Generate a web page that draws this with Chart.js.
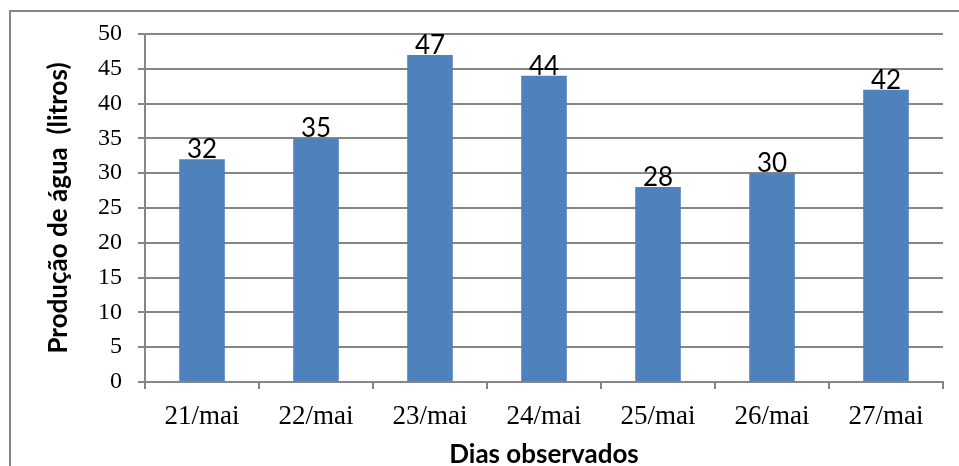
<!DOCTYPE html>
<html>
<head>
<meta charset="utf-8">
<script src="https://cdn.jsdelivr.net/npm/chart.js@4"></script>
<style>
  html, body { margin: 0; padding: 0; background: #ffffff; }
  #wrap { position: relative; width: 959px; height: 466px; }
</style>
</head>
<body>
<div id="wrap"><canvas id="c" width="959" height="466"></canvas></div>
<script>
const categories = ["21/mai", "22/mai", "23/mai", "24/mai", "25/mai", "26/mai", "27/mai"];
const producao = [32, 35, 47, 44, 28, 30, 42];
const yTicks = [0, 5, 10, 15, 20, 25, 30, 35, 40, 45, 50];
const xTitle = "Dias observados";
const yTitle = "Produção de água  (litros)";

const gridColor = "#868686";

const frame = {
  id: "frame",
  beforeDraw(chart) {
    const ctx = chart.ctx;
    ctx.save();
    ctx.fillStyle = "#ffffff";
    ctx.fillRect(0, 0, chart.width, chart.height);
    ctx.strokeStyle = gridColor;
    ctx.lineWidth = 2;
    ctx.strokeRect(10, 11, chart.width + 20, chart.height + 20);
    ctx.restore();
  }
};

const valueLabels = {
  id: "valueLabels",
  afterDatasetsDraw(chart) {
    const ctx = chart.ctx;
    const meta = chart.getDatasetMeta(0);
    ctx.save();
    ctx.font = "26px Lato";
    ctx.fillStyle = "#000000";
    ctx.textAlign = "center";
    ctx.textBaseline = "alphabetic";
    meta.data.forEach((bar, i) => {
      ctx.fillText(String(chart.data.datasets[0].data[i]), bar.x, bar.y - 1);
    });
    ctx.restore();
  }
};

new Chart(document.getElementById("c"), {
  type: "bar",
  data: {
    labels: categories,
    datasets: [{
      data: producao,
      backgroundColor: "#4F81BD",
      borderWidth: 0,
      categoryPercentage: 1,
      barPercentage: 0.4
    }]
  },
  options: {
    responsive: false,
    animation: false,
    devicePixelRatio: 1,
    layout: { padding: { top: 34, right: 16, bottom: 0, left: 0 } },
    plugins: {
      legend: { display: false },
      tooltip: { enabled: false }
    },
    scales: {
      x: {
        offset: true,
        grid: {
          display: true,
          offset: true,
          drawOnChartArea: false,
          drawTicks: true,
          tickLength: 7,
          color: gridColor,
          lineWidth: 2
        },
        border: { display: true, color: gridColor, width: 2 },
        ticks: {
          color: "#000000",
          font: { family: "Liberation Serif", size: 27 },
          padding: 12,
          maxRotation: 0
        },
        title: {
          display: true,
          text: xTitle,
          color: "#000000",
          font: { family: "Lato", size: 26, weight: "bold" },
          padding: { top: 0, bottom: -4 }
        },
        afterFit(scale) { scale.height = 84; }
      },
      y: {
        min: 0,
        max: 50,
        afterBuildTicks(scale) { scale.ticks = yTicks.map(v => ({ value: v })); },
        grid: {
          color: gridColor,
          lineWidth: 2,
          tickLength: 7,
          drawTicks: true
        },
        border: { display: true, color: gridColor, width: 2 },
        ticks: {
          color: "#000000",
          font: { family: "Liberation Serif", size: 24 },
          padding: 16
        },
        title: {
          display: true,
          text: yTitle,
          color: "#000000",
          font: { family: "Lato", size: 26, weight: "bold" },
          padding: { top: 43, bottom: 0 }
        },
        afterFit(scale) { scale.width = 145; }
      }
    }
  },
  plugins: [frame, valueLabels]
});
</script>
</body>
</html>
